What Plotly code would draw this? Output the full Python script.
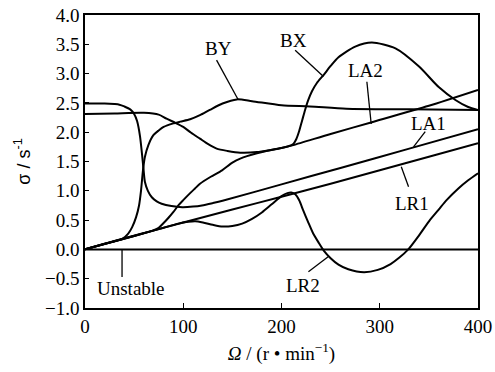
import plotly.graph_objects as go

# ---------------- data ----------------
omega_LA1 = [0, 20, 30, 35, 40, 46, 50, 53, 56, 58, 59.5, 61, 64, 68, 73, 78, 88, 99, 110, 119, 130, 140, 200, 260, 330, 400]
sigma_LA1 = [2.49, 2.49, 2.48, 2.47, 2.44, 2.39, 2.31, 2.19, 1.93, 1.63, 1.38, 1.15, 1.0, 0.89, 0.82, 0.78, 0.74, 0.72, 0.73, 0.75, 0.79, 0.83, 1.11, 1.39, 1.72, 2.05]

omega_BY = [0, 20, 30, 38, 44, 48, 52, 55, 57, 59, 61, 64.5, 69.6, 75, 80, 90, 97, 107, 117, 127, 140, 154.5, 170, 200, 229, 266, 330, 400]
sigma_BY = [0, 0.095, 0.14, 0.18, 0.27, 0.38, 0.55, 0.75, 1.0, 1.35, 1.58, 1.78, 1.95, 2.03, 2.09, 2.15, 2.18, 2.22, 2.29, 2.38, 2.49, 2.56, 2.53, 2.46, 2.44, 2.40, 2.39, 2.38]

omega_BX = [0, 30, 60, 75, 83, 92, 100, 108, 117, 125, 134, 145, 158, 175, 190, 200, 207, 212, 215, 218, 221, 224, 227, 231, 236, 243, 250, 258, 275, 292, 316, 340, 360, 377, 390, 400]
sigma_BX = [2.31, 2.32, 2.33, 2.30, 2.23, 2.16, 2.09, 1.99, 1.89, 1.80, 1.72, 1.68, 1.65, 1.66, 1.70, 1.73, 1.76, 1.80, 1.88, 2.02, 2.20, 2.38, 2.54, 2.70, 2.84, 2.98, 3.13, 3.28, 3.46, 3.53, 3.43, 3.12, 2.77, 2.55, 2.43, 2.38]

omega_LA2 = [0, 20, 40, 60, 70, 75, 80, 85, 90, 95, 100, 107, 112, 117, 128, 139.5, 150, 158, 175, 191, 200, 212, 250, 292, 350, 400]
sigma_LA2 = [0, 0.095, 0.19, 0.28, 0.33, 0.37, 0.45, 0.54, 0.64, 0.75, 0.84, 0.96, 1.04, 1.12, 1.24, 1.35, 1.48, 1.55, 1.64, 1.70, 1.73, 1.78, 1.97, 2.17, 2.45, 2.72]

omega_LR1 = [0, 50, 100, 150, 200, 250, 300, 350, 400]
sigma_LR1 = [0, 0.23, 0.46, 0.68, 0.90, 1.12, 1.35, 1.58, 1.81]

omega_LR2 = [0, 50, 80, 95, 105, 112, 120, 130, 140, 150, 160, 170, 180, 190, 200, 206, 210, 214, 218, 222, 227, 232, 238, 243, 250, 258, 268, 284, 298, 311, 320, 329, 340, 351, 360, 368, 380, 390, 400]
sigma_LR2 = [0, 0.23, 0.37, 0.44, 0.47, 0.48, 0.46, 0.42, 0.39, 0.40, 0.44, 0.52, 0.63, 0.77, 0.91, 0.96, 0.97, 0.94, 0.84, 0.67, 0.47, 0.28, 0.11, -0.02, -0.15, -0.26, -0.34, -0.39, -0.35, -0.25, -0.14, 0.0, 0.24, 0.5, 0.68, 0.84, 1.04, 1.18, 1.3]

omega_unstable = [0, 400]
sigma_unstable = [0, 0]

x_ticks = [0, 100, 200, 300, 400]
y_ticks = [-1.0, -0.5, 0.0, 0.5, 1.0, 1.5, 2.0, 2.5, 3.0, 3.5, 4.0]

# label text, label position, leader line (start -> end) in data units
labels = [
    ("BY", 135.5, 3.43, 133.9, 3.23, 156.1, 2.55),
    ("BX", 212.2, 3.57, 213.9, 3.40, 242.7, 2.95),
    ("LA2", 285.2, 3.06, 286.9, 2.86, 291.3, 2.14),
    ("LA1", 349.7, 2.15, 346.3, 2.01, 334.4, 1.75),
    ("LR1", 332.8, 0.78, 329.3, 1.07, 321.9, 1.41),
    ("LR2", 222.3, -0.61, 227.4, -0.38, 247.8, -0.12),
    ("Unstable", 46.5, -0.66, 37.7, 0.0, 37.7, -0.47),
]

SERIF = "'Times New Roman', 'Liberation Serif', serif"

fig = go.Figure()
for xs, ys in [(omega_LA1, sigma_LA1), (omega_BY, sigma_BY), (omega_BX, sigma_BX),
               (omega_LA2, sigma_LA2), (omega_LR1, sigma_LR1), (omega_LR2, sigma_LR2),
               (omega_unstable, sigma_unstable)]:
    fig.add_trace(go.Scatter(x=xs, y=ys, mode="lines",
                             line=dict(color="black", width=2, shape="spline", smoothing=0.7),
                             showlegend=False, hoverinfo="skip"))

for text, tx, ty, x0, y0, x1, y1 in labels:
    fig.add_annotation(x=tx, y=ty, text=text, showarrow=False,
                       font=dict(family=SERIF, size=19, color="black"))
    fig.add_shape(type="line", x0=x0, y0=y0, x1=x1, y1=y1,
                  line=dict(color="black", width=1.3))

fig.update_layout(
    width=495, height=372,
    margin=dict(l=85, r=17, t=15, b=64, autoexpand=False),
    paper_bgcolor="white", plot_bgcolor="white",
    font=dict(family=SERIF, size=19, color="black"),
    showlegend=False,
)
fig.update_xaxes(range=[0, 400], tickvals=x_ticks, ticks="inside", ticklen=5, tickwidth=1.3,
                 tickcolor="black", showline=True, linecolor="black", linewidth=1.5, mirror=True,
                 showgrid=False, zeroline=False, tickfont=dict(family=SERIF, size=19),
                 automargin=False,
                 title=dict(text="<i>Ω</i> / (r • min<sup>−1</sup>)", standoff=11,
                            font=dict(family=SERIF, size=19)))
fig.update_yaxes(range=[-1, 4], tickvals=y_ticks, tickformat=".1f", ticks="inside", ticklen=4,
                 tickwidth=1.3, tickcolor="black", showline=True, linecolor="black", linewidth=1.5,
                 mirror=True, showgrid=False, zeroline=False, tickfont=dict(family=SERIF, size=19),
                 automargin=False,
                 title=dict(text="σ / s<sup>-1</sup>", standoff=10,
                            font=dict(family="'Liberation Sans', Arial, sans-serif", size=18)))

fig.write_html("out.html")
